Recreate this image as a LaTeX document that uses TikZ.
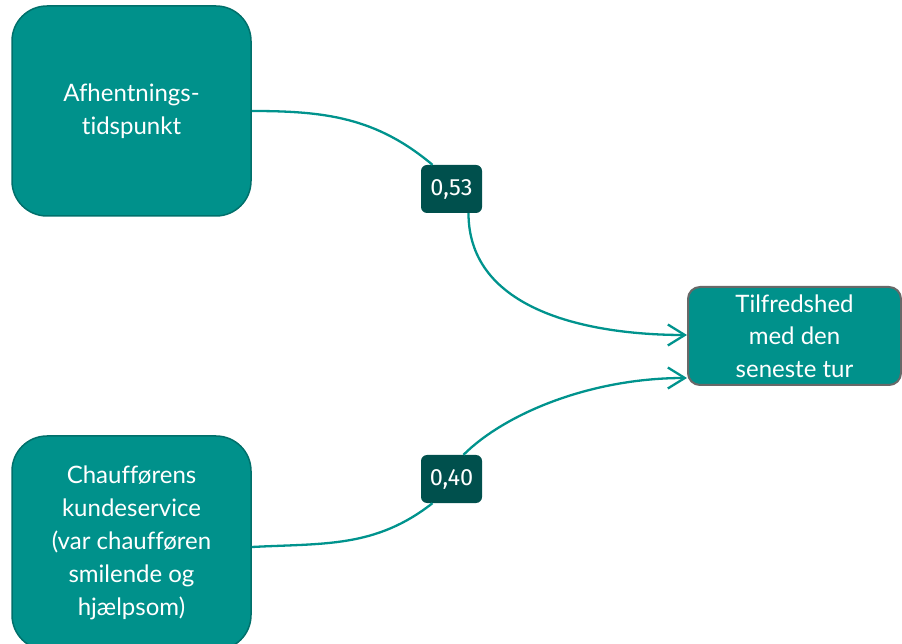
\documentclass[tikz,border=0pt]{standalone}
\usepackage{fontspec}
\setmainfont{Lato}[Ligatures=NoCommon]
\newfontfamily\labfont{Fira Sans}
\usetikzlibrary{arrows.meta}
\definecolor{tealfill}{HTML}{00918B}
\definecolor{tealborder}{HTML}{00706B}
\definecolor{labfill}{HTML}{00504D}
\definecolor{edgecol}{HTML}{00938D}
\definecolor{grayborder}{HTML}{686868}
\tikzset{
  factor/.style={draw=tealborder, line width=1.5pt, fill=tealfill, rounded corners=35pt,
    minimum width=239pt, text=white, align=center, inner sep=0pt,
    font=\fontsize{24}{33}\selectfont},
  outcome/.style={draw=grayborder, line width=2pt, fill=tealfill, rounded corners=12pt,
    minimum width=213pt, minimum height=98pt, text=white, align=center, inner sep=0pt,
    font=\fontsize{24}{32.5}\selectfont},
  weight/.style={fill=labfill, rounded corners=6pt, minimum width=61pt, minimum height=48pt,
    text=white, inner sep=0pt, font=\labfont\fontsize{23.5}{28}\selectfont},
  link/.style={draw=edgecol, line width=2.3pt},
  linkarrow/.style={link, -{Straight Barb[length=17pt,width=21pt,line width=2.3pt]}}
}
\begin{document}
\begin{tikzpicture}[x=1pt,y=1pt]
\useasboundingbox (0,0) rectangle (902,643);
\node[factor, minimum height=210pt] (A) at (131.5,532) {Afhentnings-\\tidspunkt};
\node[factor, minimum height=214pt] (B) at (131.5,100) {Chaufførens\\kundeservice\\(var chaufføren\\smilende og\\hjælpsom)};
\node[outcome] (T) at (794.5,307) {Tilfredshed\\med den\\seneste tur};
\node[weight] (L1) at (451.5,454) {0,53};
\node[weight] (L2) at (451.5,164) {0,40};
\draw[link] (A.east) to[out=0,in=140] ([xshift=-19pt]L1.north);
\draw[linkarrow] ([xshift=17pt]L1.south) to[out=-90,in=180] ([yshift=1pt]T.west);
\draw[link] ([yshift=-4pt]B.east) to[out=3,in=-142] ([xshift=-19pt]L2.south);
\draw[linkarrow] ([xshift=12pt]L2.north) to[out=45,in=180,out distance=57pt,in distance=98pt] ([yshift=-42pt]T.west);
\end{tikzpicture}
\end{document}
